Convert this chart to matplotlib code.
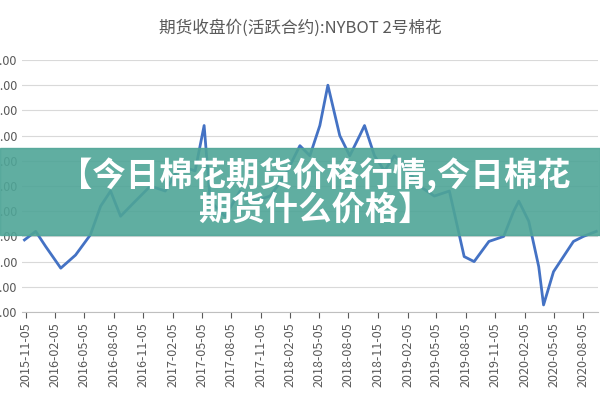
import matplotlib
matplotlib.use("Agg")
import matplotlib.pyplot as plt
import matplotlib.dates as mdates
import pandas as pd
from matplotlib.patches import Rectangle

plt.rcParams['font.family'] = ['Noto Sans CJK SC', 'DejaVu Sans']

title = "期货收盘价(活跃合约):NYBOT 2号棉花"
banner = "【今日棉花期货价格行情,今日棉花\n期货什么价格】"

dates = ["2015-11-01", "2015-12-06", "2016-01-06", "2016-02-22", "2016-04-08",
         "2016-05-24", "2016-06-25", "2016-07-26", "2016-08-26", "2016-10-11",
         "2016-11-27", "2017-01-12", "2017-02-28", "2017-04-15", "2017-05-13",
         "2017-06-01", "2017-07-17", "2017-09-02", "2017-10-18", "2017-12-04",
         "2018-01-19", "2018-03-07", "2018-04-07", "2018-05-08", "2018-06-02",
         "2018-07-09", "2018-08-09", "2018-09-09", "2018-09-24", "2018-10-25",
         "2018-11-25", "2018-12-26", "2019-01-26", "2019-03-14", "2019-04-29",
         "2019-06-15", "2019-07-31", "2019-08-31", "2019-10-16", "2019-12-01",
         "2020-01-01", "2020-01-17", "2020-02-17", "2020-03-19", "2020-04-03",
         "2020-05-04", "2020-06-04", "2020-07-05", "2020-08-05", "2020-09-14"]
prices = [64.3, 66, 63, 58.7, 61.3, 65.3, 71, 74, 69, 72,
          75, 74, 79, 78, 87, 72, 69, 74, 72, 73,
          77, 83, 81, 87, 95, 85, 81, 85, 87, 81,
          78, 81, 79, 75, 73, 74, 61, 60, 64, 65,
          70, 72, 68, 59, 51.4, 58, 61, 64, 65, 66]
tick_labels = ["2015-11-05", "2016-02-05", "2016-05-05", "2016-08-05", "2016-11-05",
               "2017-02-05", "2017-05-05", "2017-08-05", "2017-11-05", "2018-02-05",
               "2018-05-05", "2018-08-05", "2018-11-05", "2019-02-05", "2019-05-05",
               "2019-08-05", "2019-11-05", "2020-02-05", "2020-05-05", "2020-08-05"]

fig = plt.figure(figsize=(6, 4), dpi=100)
ax = fig.add_axes([0.037, 0.22, 0.96, 0.63])
ax.plot(pd.to_datetime(dates), prices, color="#4472C4", lw=2)
ax.set_ylim(50, 100)
ax.set_yticks(range(50, 101, 5))
ax.yaxis.set_major_formatter(matplotlib.ticker.FormatStrFormatter("%.2f"))
ax.set_xlim(pd.Timestamp("2015-10-25"), pd.Timestamp("2020-09-20"))
ax.set_xticks(pd.to_datetime(tick_labels))
ax.xaxis.set_major_formatter(mdates.DateFormatter("%Y-%m-%d"))
ax.tick_params(axis="x", rotation=90, labelsize=9, colors="#595959", length=4)
ax.tick_params(axis="y", labelsize=9, colors="#595959", length=0)
ax.grid(axis="y", color="#d9d9d9", lw=0.8)
for s in ["top", "right", "left"]:
    ax.spines[s].set_visible(False)
ax.spines["bottom"].set_color("#bfbfbf")
fig.text(0.5, 0.93, title, ha="center", va="center", fontsize=12, color="#595959")

fig.patches.append(Rectangle((0, 0.4125), 1, 0.2175, transform=fig.transFigure,
                             color="#4fa597", alpha=0.9, zorder=5))
fig.text(0.525, 0.52, banner, ha="center", va="center", fontsize=24, color="white",
         fontweight="bold", linespacing=1.05, zorder=6)
fig.savefig("out.png", dpi=100)
